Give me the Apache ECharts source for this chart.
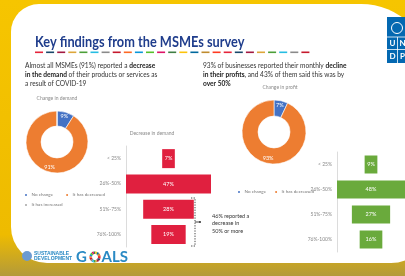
<!DOCTYPE html>
<html>
<head>
<meta charset="utf-8">
<script src="https://cdn.jsdelivr.net/npm/echarts@6/dist/echarts.min.js"></script>
<style>
  html, body { margin: 0; padding: 0; background: #f3c200; }
  #main { width: 405px; height: 276px; }
</style>
</head>
<body>
<div id="main"></div>
<script>
// survey numbers
var sliceNames = ['No change', 'It has decreased', 'It has increased'];
var demandShare = [9, 91, 0];
var profitShare = [7, 93];
var rangeCats = ['< 25%', '26%-50%', '51%-75%', '76%-100%'];
var demandDrop = [7, 47, 28, 19];
var profitDrop = [9, 48, 27, 16];

var blue = '#4472c4', orange = '#ed7d31', grey = '#a5a5a5';
var red = '#e0203f', green = '#6aaa3c';
var font = 'Lato, "Open Sans", sans-serif';

var demandMax = Math.max.apply(null, demandDrop);
var profitMax = Math.max.apply(null, profitDrop);

function pieData(values) {
    var colors = [blue, orange, grey];
    return values.map(function (v, i) {
        var item = { name: sliceNames[i], value: v, itemStyle: { color: colors[i] } };
        if (v === 0) item.label = { show: false };
        return item;
    });
}

// transparent pad so the bars sit centred, funnel style
function padding(values, max) {
    return values.map(function (v) { return (max - v) / 2; });
}

function barPair(values, max, idx, color, width) {
    return [
        {
            type: 'bar', stack: 's' + idx, xAxisIndex: idx, yAxisIndex: idx,
            data: padding(values, max), silent: true,
            itemStyle: { color: 'transparent' }, barWidth: width
        },
        {
            type: 'bar', stack: 's' + idx, xAxisIndex: idx, yAxisIndex: idx,
            data: values, barWidth: width,
            itemStyle: { color: color },
            label: { show: true, position: 'inside', formatter: '{c}%', color: '#fff', fontSize: 5.5, fontFamily: font }
        }
    ];
}

function catAxis(idx) {
    return {
        type: 'category', gridIndex: idx, data: rangeCats, inverse: true,
        axisLine: { show: true, lineStyle: { color: '#dcdcdc' } },
        axisTick: { show: false },
        axisLabel: { fontSize: 5, color: '#888', margin: 5, fontFamily: font }
    };
}

// decorative bits: page frame, underline, logos
var sdgColors = ['#e5243b', '#19486a', '#a21942', '#dda63a', '#4c9f38', '#26bde2', '#8a8a8a',
    '#c5192d', '#fd6925', '#0a97d9', '#56c02b', '#dd1367', '#3f7e44', '#fcc30b', '#00689d', '#bf8b2e', '#ff3a21'];
var deco = [
    { type: 'rect', z: -5, shape: { x: 0, y: 0, width: 405, height: 276 },
      style: { fill: new echarts.graphic.LinearGradient(0, 0, 0, 1, [
          { offset: 0, color: '#f6c500' }, { offset: 0.85, color: '#eebb00' }, { offset: 1, color: '#b39a3a' }]) } },
    { type: 'rect', z: -4, shape: { x: 11, y: 4, width: 420, height: 259, r: [28, 70, 40, 36] },
      style: { fill: '#ffffff' } }
];
for (var i = 0; i < 25; i++) {
    deco.push({ type: 'rect', shape: { x: 35 + i * 11.1, y: 51.5, width: 8, height: 1.6 },
        style: { fill: sdgColors[i % sdgColors.length] } });
}
for (var k = 0; k < 17; k++) {
    deco.push({ type: 'sector', shape: { cx: 95, cy: 257, r0: 3, r: 5.6,
        startAngle: k / 17 * Math.PI * 2, endAngle: (k + 1) / 17 * Math.PI * 2 },
        style: { fill: sdgColors[k] } });
}

var texts = [
    { type: 'text', x: 35, y: 35, scaleX: 0.88, style: { text: 'Key findings from the MSMEs survey', x: 0, y: 0, fill: '#1f3d8c',
        fontSize: 14.5, fontWeight: 'bold', fontFamily: font } },
    { type: 'text', style: {
        text: 'Almost all MSMEs (91%) reported a {b|decrease}\n{b|in the demand} of their products or services as\na result of COVID-19',
        x: 25, y: 62, fill: '#333', fontSize: 6.6, lineHeight: 8.6, fontFamily: font,
        rich: { b: { fontWeight: 'bold', fontSize: 6.6, fontFamily: font, fill: '#222' } } } },
    { type: 'text', style: {
        text: '93% of businesses reported their monthly {b|decline}\n{b|in their profits}, and 43% of them said this was by\n{b|over 50%}',
        x: 203, y: 62, fill: '#333', fontSize: 6.6, lineHeight: 8.6, fontFamily: font,
        rich: { b: { fontWeight: 'bold', fontSize: 6.6, fontFamily: font, fill: '#222' } } } },
    { type: 'text', style: { text: 'Change in demand', x: 57, y: 96, align: 'center', fill: '#8a8a8a', fontSize: 5, fontFamily: font } },
    { type: 'text', style: { text: 'Change in profit', x: 280, y: 85, align: 'center', fill: '#8a8a8a', fontSize: 5, fontFamily: font } },
    { type: 'text', style: { text: 'Decrease in demand', x: 152, y: 131, align: 'center', fill: '#8a8a8a', fontSize: 5, fontFamily: font } },
    // bracket next to the two largest drops
    { type: 'polyline', shape: { points: [[191, 198], [195, 198], [195, 246], [191, 246]] },
      style: { stroke: '#333', lineWidth: 0.9, lineDash: [1.3, 1.3], fill: null } },
    { type: 'line', shape: { x1: 195, y1: 222, x2: 200, y2: 222 }, style: { stroke: '#333', lineWidth: 0.9 } },
    { type: 'circle', shape: { cx: 200, cy: 222, r: 1 }, style: { fill: '#333' } },
    { type: 'text', style: { text: '46% reported a\ndecrease in\n50% or more', x: 212, y: 212, fill: '#333',
        fontSize: 5.5, lineHeight: 7.5, fontFamily: font } },
    // UNDP logo
    { type: 'rect', shape: { x: 387, y: 17, width: 22, height: 46 }, style: { fill: '#0468b1' } },
    { type: 'circle', shape: { cx: 397, cy: 28, r: 5.5 }, style: { stroke: '#fff', lineWidth: 1, fill: null } },
    { type: 'line', shape: { x1: 387, y1: 37, x2: 409, y2: 37 }, style: { stroke: '#fff', lineWidth: 0.8 } },
    { type: 'line', shape: { x1: 387, y1: 49.5, x2: 409, y2: 49.5 }, style: { stroke: '#fff', lineWidth: 0.8 } },
    { type: 'line', shape: { x1: 397.5, y1: 37, x2: 397.5, y2: 63 }, style: { stroke: '#fff', lineWidth: 0.8 } },
    { type: 'text', style: { text: 'U', x: 392.5, y: 43, align: 'center', verticalAlign: 'middle', fill: '#fff', fontSize: 8, fontWeight: 'bold', fontFamily: font } },
    { type: 'text', style: { text: 'N', x: 402.5, y: 43, align: 'center', verticalAlign: 'middle', fill: '#fff', fontSize: 8, fontWeight: 'bold', fontFamily: font } },
    { type: 'text', style: { text: 'D', x: 392.5, y: 56, align: 'center', verticalAlign: 'middle', fill: '#fff', fontSize: 8, fontWeight: 'bold', fontFamily: font } },
    { type: 'text', style: { text: 'P', x: 402.5, y: 56, align: 'center', verticalAlign: 'middle', fill: '#fff', fontSize: 8, fontWeight: 'bold', fontFamily: font } },
    // SDG logo
    { type: 'circle', shape: { cx: 27, cy: 256, r: 5 }, style: { fill: '#6c9bd2' } },
    { type: 'text', style: { text: 'SUSTAINABLE\nDEVELOPMENT', x: 34, y: 250.5, fill: '#2a8ac4', fontSize: 5, lineHeight: 5.5,
        fontWeight: 'bold', fontFamily: 'Liberation Sans Narrow, Liberation Sans, sans-serif' } },
    { type: 'text', style: { text: 'G', x: 76, y: 257, verticalAlign: 'middle', fill: '#2a8ac4', fontSize: 15, fontWeight: 'bold', fontFamily: font } },
    { type: 'text', style: { text: 'ALS', x: 101.5, y: 257, verticalAlign: 'middle', fill: '#2a8ac4', fontSize: 15, fontWeight: 'bold', fontFamily: font } }
];

var legendBase = {
    icon: 'circle', itemWidth: 4, itemHeight: 4, itemGap: 7,
    textStyle: { fontSize: 4.6, color: '#777', fontFamily: font, padding: [0, 0, 0, -1.5] }
};

var option = {
    animation: false,
    graphic: deco.concat(texts),
    legend: [
        Object.assign({ left: 18, top: 187, data: ['No change', 'It has decreased'] }, legendBase, { itemGap: 11 }),
        Object.assign({ left: 18, top: 197, data: ['It has increased'] }, legendBase),
        Object.assign({ left: 231, top: 184, data: ['No change', 'It has decreased'] }, legendBase)
    ],
    grid: [
        { left: 126, right: 194, top: 146, bottom: 29 },
        { left: 337, right: -2, top: 152, bottom: 24 }
    ],
    xAxis: [
        { type: 'value', gridIndex: 0, min: 0, max: demandMax, show: false },
        { type: 'value', gridIndex: 1, min: 0, max: profitMax, show: false }
    ],
    yAxis: [catAxis(0), catAxis(1)],
    series: [
        {
            type: 'pie', center: [57, 142], radius: [16, 31], startAngle: 90, clockwise: true,
            data: pieData(demandShare),
            label: { position: 'inside', formatter: '{c}%', color: '#fff', fontSize: 5.5, fontFamily: font },
            labelLine: { show: false },
            itemStyle: { borderColor: '#fff', borderWidth: 0.6 }
        },
        {
            type: 'pie', center: [274, 132], radius: [16, 32], startAngle: 90, clockwise: true,
            data: pieData(profitShare),
            label: { position: 'inside', formatter: '{c}%', color: '#fff', fontSize: 5.5, fontFamily: font },
            labelLine: { show: false },
            itemStyle: { borderColor: '#fff', borderWidth: 0.6 }
        }
    ].concat(barPair(demandDrop, demandMax, 0, red, 19), barPair(profitDrop, profitMax, 1, green, 18))
};

var myChart = echarts.init(document.getElementById('main'));
myChart.setOption(option);
</script>
</body>
</html>
